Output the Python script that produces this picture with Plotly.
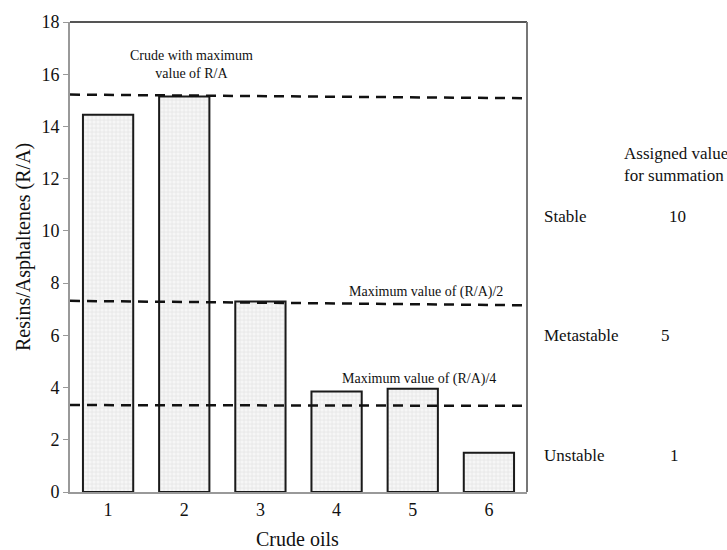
import plotly.graph_objects as go

# Crude oil samples and their resins/asphaltenes ratio
crudes = [1, 2, 3, 4, 5, 6]
ra_ratio = [14.45, 15.15, 7.3, 3.85, 3.95, 1.5]

# Reference levels (left end, right end) drawn as dashed lines
level_max = (15.22, 15.08)
level_half = (7.32, 7.15)
level_quarter = (3.33, 3.3)

# Stability classes and their assigned values
classes = ["Stable", "Metastable", "Unstable"]
assigned = ["10", "5", "1"]

FONT = "Liberation Serif"
INK = "#111111"

fig = go.Figure()
fig.add_trace(go.Bar(
    x=crudes, y=ra_ratio, width=0.66,
    marker=dict(
        color="#f2f2f2",
        line=dict(color="#1a1a1a", width=2),
        pattern=dict(shape="+", fgcolor="#d4d4d4", bgcolor="#f6f6f6", size=4, solidity=0.35),
    ),
    showlegend=False,
))

for y0, y1 in (level_max, level_half, level_quarter):
    fig.add_shape(type="line", xref="x", yref="y", x0=0.5, x1=6.5, y0=y0, y1=y1,
                  line=dict(color=INK, width=2.5, dash="10px,7px"), layer="above")

# Frame on top and right of the plotting area
fig.add_shape(type="line", xref="paper", yref="paper", x0=0, x1=1, y0=1, y1=1,
              line=dict(color="#555555", width=2))
fig.add_shape(type="line", xref="paper", yref="paper", x0=1, x1=1, y0=0, y1=1,
              line=dict(color="#777777", width=2))

ann_font = dict(family=FONT, size=14, color=INK)
fig.add_annotation(x=2.1, y=16.38, xref="x", yref="y", text="Crude with maximum<br>value of R/A",
                   showarrow=False, font=ann_font, align="center")
fig.add_annotation(x=5.18, y=7.66, xref="x", yref="y", text="Maximum value of (R/A)/2",
                   showarrow=False, font=ann_font)
fig.add_annotation(x=5.08, y=4.34, xref="x", yref="y", text="Maximum value of (R/A)/4",
                   showarrow=False, font=ann_font)

side_font = dict(family=FONT, size=17, color=INK)
fig.add_annotation(x=1.208, y=12.53, xref="paper", yref="y", xanchor="left",
                   text="Assigned value<br>for summation", showarrow=False, font=side_font, align="left")
class_y = [10.57, 6.0, 1.4]
class_x = [1.330, 1.304, 1.322]
for name, val, yv, xv in zip(classes, assigned, class_y, class_x):
    fig.add_annotation(x=1.033, y=yv, xref="paper", yref="y", xanchor="left",
                       text=name, showarrow=False, font=side_font)
    fig.add_annotation(x=xv, y=yv, xref="paper", yref="y", xanchor="center",
                       text=val, showarrow=False, font=side_font)

# Axis titles
fig.add_annotation(x=-0.103, y=0.521, xref="paper", yref="paper", textangle=-90,
                   xanchor="center", yanchor="middle",
                   text="Resins/Asphaltenes (R/A)", showarrow=False,
                   font=dict(family=FONT, size=20, color=INK))
fig.add_annotation(x=0.498, y=-0.101, xref="paper", yref="paper",
                   xanchor="center", yanchor="middle",
                   text="Crude oils", showarrow=False,
                   font=dict(family=FONT, size=20, color=INK))

fig.update_layout(
    width=727, height=550,
    margin=dict(l=70, r=200, t=14, b=58),
    paper_bgcolor="white", plot_bgcolor="white",
    font=dict(family=FONT, size=18, color=INK),
)
fig.update_xaxes(
    range=[0.5, 6.5], tickmode="array", tickvals=crudes, ticktext=[str(c) for c in crudes],
    showline=True, linecolor="#999999", linewidth=2, ticks="", showgrid=False, zeroline=False,
)
fig.update_yaxes(
    range=[0, 18], tickmode="array", tickvals=list(range(0, 19, 2)),
    showline=True, linecolor="#999999", linewidth=2, ticks="outside", ticklen=5,
    tickcolor="#999999", showgrid=False, zeroline=False,
)

fig.write_html("out.html")
